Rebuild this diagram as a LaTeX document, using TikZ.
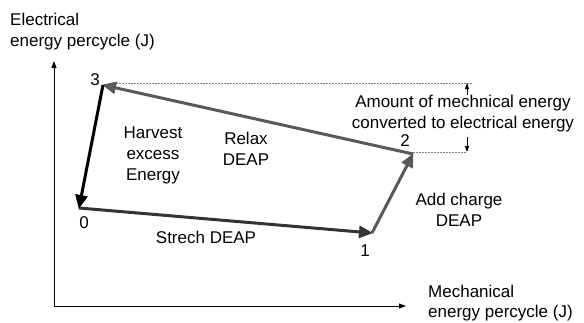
\documentclass[tikz,border=0pt]{standalone}
\usepackage{fontspec}
\setmainfont{Liberation Sans}
\usetikzlibrary{arrows.meta}
\begin{document}
\begin{tikzpicture}[x=1pt,y=-1pt,
  lbl/.style={font=\fontsize{17}{21}\selectfont, inner sep=0pt, align=center},
  axis/.style={line width=1pt, -{Triangle[length=7pt,width=5pt]}},
  edge/.style={line width=3pt, -{Triangle[length=14pt,width=12pt]}, shorten >=-1pt},
  guide/.style={gray, line width=0.6pt, dash pattern=on 2pt off 1pt},
  measure/.style={line width=0.8pt, -{Triangle[length=6pt,width=4pt]}}]
\useasboundingbox (0,0) rectangle (584,322);
% axes
\coordinate (O) at (54,306);
\coordinate (ytop) at (54,61);
\coordinate (xend) at (406,306);
\draw[axis] (O) -- (ytop);
\draw[axis] (O) -- (xend);
\node[lbl, align=left, anchor=north west] (ylab) at (10,12.5) {Electrical\\energy percycle (J)};
\node[lbl, align=left, anchor=north west,
      font=\fontsize{17}{20}\selectfont] (xlab) at (428,285) {Mechanical\\energy percycle (J)};
% cycle corners
\coordinate (p0) at (79,208);
\coordinate (p1) at (372,233);
\coordinate (p2) at (413,154);
\coordinate (p3) at (103,85);
\node[lbl] (n0) at (84,223) {0};
\node[lbl] (n1) at (365,251) {1};
\node[lbl] (n2) at (405,141) {2};
\node[lbl] (n3) at (95,80) {3};
% energy difference marker
\coordinate (d3) at (473,83);
\coordinate (d2) at (467,152);
\coordinate (s3) at (110,83);
\coordinate (s2) at (413,152);
\draw[guide] (s3) -- (d3);
\draw[guide] (s2) -- (d2);
\node[lbl] (amt) at (463,114) {Amount of mechnical energy\\converted to electrical energy};
\coordinate (au) at (467,95);
\coordinate (ad) at (467,137);
\coordinate (tu) at (467,83);
\draw[measure] (au) -- (tu);
\draw[measure] (ad) -- (d2);
% cycle edges
\draw[edge, color=black!80] (p0) -- (p1);
\draw[edge, color=black!65] (p1) -- (p2);
\draw[edge, color=black!65] (p2) -- (p3);
\draw[edge, color=black] (p3) -- (p0);
% stage labels
\node[lbl] (harvest) at (153,155) {Harvest\\excess\\Energy};
\node[lbl] (relax) at (246,149) {Relax\\DEAP};
\node[lbl] (stretch) at (206,237) {Strech DEAP};
\node[lbl] (charge) at (459,210) {Add charge\\DEAP};
\end{tikzpicture}
\end{document}
